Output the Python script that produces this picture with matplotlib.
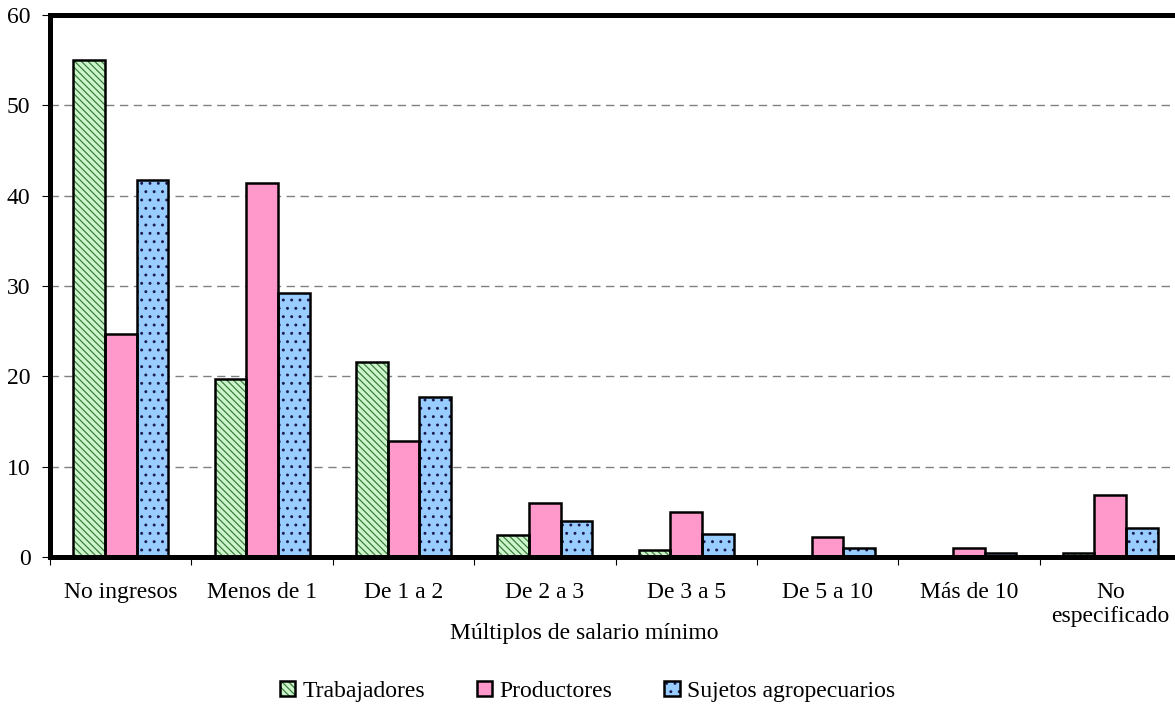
import matplotlib.pyplot as plt
from matplotlib.legend_handler import HandlerTuple
import numpy as np

# data
categories = ["No ingresos", "Menos de 1", "De 1 a 2", "De 2 a 3", "De 3 a 5",
              "De 5 a 10", "Más de 10", "No\nespecificado"]
trabajadores = [55.0, 19.7, 21.6, 2.4, 0.8, 0.0, 0.0, 0.4]
productores = [24.7, 41.4, 12.8, 6.0, 5.0, 2.2, 1.0, 6.9]
sujetos = [41.7, 29.2, 17.7, 4.0, 2.6, 1.0, 0.4, 3.2]
series_names = ["Trabajadores", "Productores", "Sujetos agropecuarios"]

plt.rcParams['font.family'] = ['Liberation Serif', 'DejaVu Serif']
plt.rcParams['hatch.linewidth'] = 0.9
fs = 17

fig = plt.figure(figsize=(11.75, 7.06), dpi=100)
ax = fig.add_axes([50 / 1175, 1 - 557 / 706, 1131 / 1175, 542 / 706])

x = np.arange(len(categories))
w = 0.224
styles = [
    dict(color="#ccf5cc", hatch="\\\\\\\\\\", hcol="#3f7f3f"),
    dict(color="#ff99cc", hatch="", hcol="#ff99cc"),
    dict(color="#99ccff", hatch="..", hcol="#1a1a4d"),
]
handles = []
for i, (vals, st) in enumerate(zip([trabajadores, productores, sujetos], styles)):
    pos = x + (i - 1) * w
    fill = ax.bar(pos, vals, w, color=st["color"], hatch=st["hatch"],
                  edgecolor=st["hcol"], linewidth=0, zorder=2)
    edge = ax.bar(pos, vals, w, facecolor="none", edgecolor="black",
                  linewidth=1.8, zorder=3)
    handles.append((fill.patches[0], edge.patches[0]))

ax.set_ylim(0, 60)
ax.set_xlim(-0.5, len(categories) - 0.5)
ax.set_yticks(range(0, 61, 10))
ax.yaxis.grid(True, linestyle=(0, (6, 4)), color="#808080", linewidth=1.0)
ax.set_axisbelow(True)

ax.set_xticks(x)
ax.set_xticklabels(categories, fontsize=fs)
ax.set_xticks(np.arange(-0.5, len(categories), 1), minor=True)
ax.tick_params(axis="x", which="major", length=0, pad=18)
ax.tick_params(axis="x", which="minor", length=6, width=0.8, direction="out")
ax.tick_params(axis="y", labelsize=fs, length=6, width=0.8, pad=8)

for side in ["left", "top", "bottom"]:
    ax.spines[side].set_linewidth(3.6)
    ax.spines[side].set_zorder(4)
ax.spines["right"].set_visible(False)

fig.text(584 / 1175, 1 - 634 / 706, "Múltiplos de salario mínimo",
         ha="center", va="center", fontsize=fs)

fig.legend(handles, series_names, loc="center", bbox_to_anchor=(0.5, 0.021),
           ncol=3, frameon=False, fontsize=fs,
           handler_map={tuple: HandlerTuple(ndivide=1, pad=0)},
           handlelength=0.65, handleheight=0.65, handletextpad=0.3,
           columnspacing=2.2)

fig.savefig("out.png", dpi=100)
